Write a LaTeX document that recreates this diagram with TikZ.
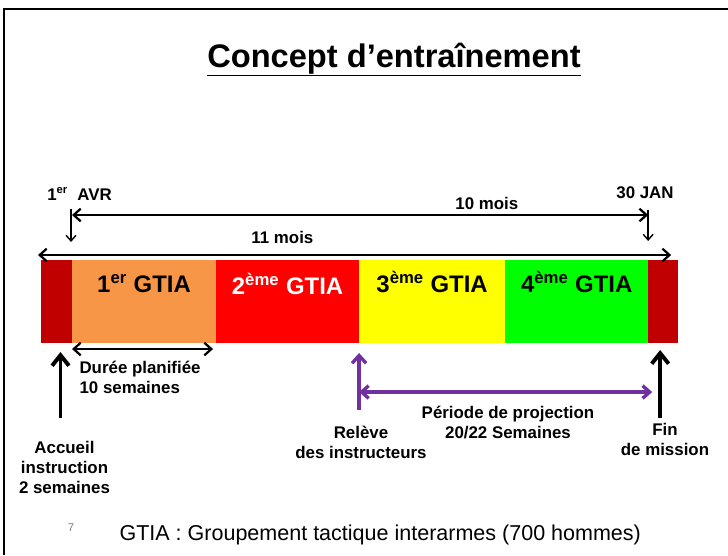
\documentclass[tikz,border=0pt]{standalone}
\usepackage{fontspec}
\setmainfont{Liberation Sans}
\usetikzlibrary{arrows.meta, positioning, calc}
\definecolor{segdark}{RGB}{192,0,0}
\definecolor{segorange}{RGB}{247,150,70}
\definecolor{segred}{RGB}{255,0,0}
\definecolor{segyellow}{RGB}{255,255,0}
\definecolor{seggreen}{RGB}{0,255,0}
\definecolor{figpurple}{RGB}{112,48,160}
\tikzset{
  seg/.style={draw=none, anchor=north west, inner sep=0pt, outer sep=0pt,
              minimum width=#1, minimum height=2.075cm},
  seglab/.style={font=\fontsize{17}{20}\selectfont\bfseries, inner sep=0pt},
  lab/.style={font=\fontsize{12}{14.2}\selectfont\bfseries, inner sep=0pt, align=center},
  dimarr/.style={{Straight Barb[length=5pt,width=9pt]}-{Straight Barb[length=5pt,width=9pt]},
                 line width=1.6pt},
  tickarr/.style={-{Straight Barb[length=4pt,width=7pt]}, line width=1pt},
  bigarr/.style={-{Straight Barb[length=7.5pt,width=12pt]}, line width=2.8pt},
  projarr/.style={draw=figpurple, line width=2.4pt},
}
\begin{document}
\begin{tikzpicture}[x=0.025cm, y=0.025cm, >=Stealth, thick]
  \useasboundingbox (0,0) rectangle (728,-555);
  \draw[line width=2pt] (728,-9) -- (4,-9) -- (4,-555);

  \node[font=\fontsize{23.2}{27}\selectfont\bfseries, inner sep=0pt, anchor=base] (title)
    at (394,-67) {\underline{Concept d’entraînement}};

  \node[seg=0.775cm, fill=segdark]                   (g0) at (41,-260) {};
  \node[seg=3.6cm,   fill=segorange, right=0pt of g0] (g1) {};
  \node[seg=3.575cm, fill=segred,    right=0pt of g1] (g2) {};
  \node[seg=3.65cm,  fill=segyellow, right=0pt of g2] (g3) {};
  \node[seg=3.575cm, fill=seggreen,  right=0pt of g3] (g4) {};
  \node[seg=0.75cm,  fill=segdark,   right=0pt of g4] (g5) {};

  \node[seglab, anchor=base]             (l1) at ($(g1.north)+(0,-32)$) {1\textsuperscript{er} GTIA};
  \node[seglab, anchor=base, text=white] (l2) at ($(g2.north)+(0,-34)$) {2\textsuperscript{ème} GTIA};
  \node[seglab, anchor=base]             (l3) at ($(g3.north)+(0,-32)$) {3\textsuperscript{ème} GTIA};
  \node[seglab, anchor=base]             (l4) at ($(g4.north)+(0,-32)$) {4\textsuperscript{ème} GTIA};

  \node[lab] (avr) at (79.5,-194) {1\textsuperscript{er}~ AVR};
  \node[lab] (jan) at (645,-193)  {30 JAN};

  \draw[dimarr] ($(g1.north west)+(0,45)$)
    -- node[pos=0.72, above=3pt, lab] {10 mois} ($(g5.north west)+(0,45)$);
  \draw[tickarr] ($(g1.north west)+(-1,51)$) -- ($(g1.north west)+(-1,18)$);
  \draw[tickarr] ($(g5.north west)+(0,50)$)  -- ($(g5.north west)+(0,19)$);
  \draw[dimarr] ($(g0.north west)+(-3,5)$)
    -- node[pos=0.386, above=7pt, lab] {11 mois} ($(g5.north east)+(-7,5)$);

  \draw[dimarr] ($(g1.south west)+(0,-6)$) -- ($(g1.south east)+(-3,-6)$);
  \node[lab, anchor=north west, align=left] (duree) at (79,-361) {Durée planifiée\\10 semaines};

  \draw[bigarr] ($(g0.south)+(4,-75)$) -- ($(g0.south)+(4,-9)$);
  \node[lab] (accueil) at (64.5,-467.5) {Accueil\\instruction\\2 semaines};

  \draw[projarr, -{Straight Barb[length=5.5pt,width=10pt]}]
    ($(g3.south west)+(0,-67)$) -- ($(g3.south west)+(0,-10)$);
  \draw[dimarr, projarr]
    ($(g3.south west)+(0,-49)$) -- ($(g5.south west)+(4,-49)$);
  \node[lab] (releve) at (361,-442.5) {Relève\\des instructeurs};
  \node[lab] (projection) at (508,-422.5) {Période de projection\\20/22 Semaines};

  \draw[bigarr] ($(g5.south)+(-3,-75)$) -- ($(g5.south)+(-3,-7)$);
  \node[lab] (fin) at (665,-439) {Fin\\de mission};

  \node[font=\fontsize{8}{9}\selectfont, text=gray, inner sep=0pt] (num) at (71,-528) {7};
  \node[font=\fontsize{15.3}{18}\selectfont, inner sep=0pt, anchor=base west] (note)
    at (119,-540) {GTIA : Groupement tactique interarmes (700 hommes)};
\end{tikzpicture}
\end{document}
